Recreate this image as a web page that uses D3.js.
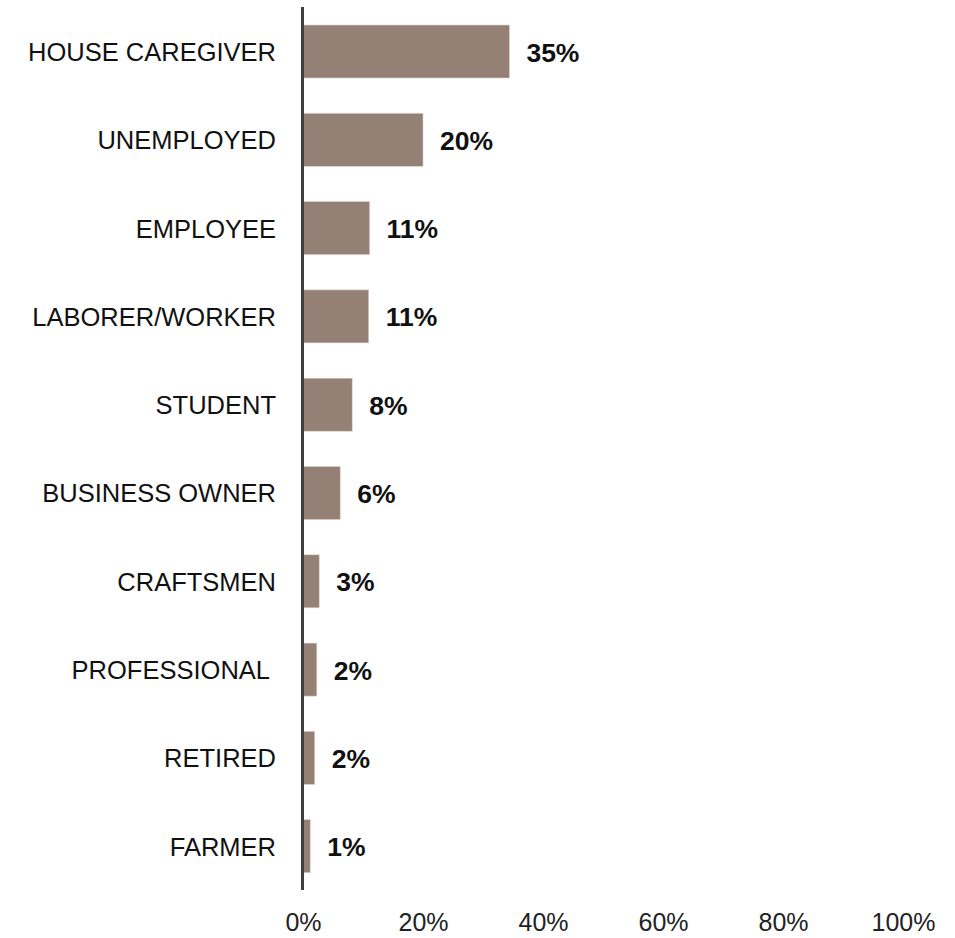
<!DOCTYPE html>
<html>
<head>
<meta charset="utf-8">
<script src="https://cdn.jsdelivr.net/npm/d3@7"></script>
<style>
  html, body { margin: 0; padding: 0; background: #fff; }
  svg { display: block; }
</style>
</head>
<body>
<svg id="chart" width="955" height="938"></svg>
<script>
const categories = ["HOUSE CAREGIVER", "UNEMPLOYED", "EMPLOYEE", "LABORER/WORKER", "STUDENT",
  "BUSINESS OWNER", "CRAFTSMEN", "PROFESSIONAL", "RETIRED", "FARMER"];
const values = [34.4, 20.0, 11.1, 10.95, 8.2, 6.2, 2.7, 2.3, 1.95, 1.2];
const valueLabels = ["35%", "20%", "11%", "11%", "8%", "6%", "3%", "2%", "2%", "1%"];
const tickValues = [0, 20, 40, 60, 80, 100];
const tickLabels = ["0%", "20%", "40%", "60%", "80%", "100%"];

const svg = d3.select("#chart");
const x = d3.scaleLinear().domain([0, 100]).range([303, 903]);
const y = d3.scaleBand().domain(categories).range([7.35, 890.35]).paddingInner(0.4).paddingOuter(0.2);

const font = "'Liberation Sans', Arial, sans-serif";

// bars
svg.append("g").selectAll("rect").data(categories).join("rect")
  .attr("x", x(0))
  .attr("y", d => y(d))
  .attr("width", (d, i) => x(values[i]) - x(0))
  .attr("height", y.bandwidth())
  .attr("fill", "#958075")
  .attr("stroke", "#d9cdc7")
  .attr("stroke-width", 0.6);

// value labels
svg.append("g").selectAll("text").data(categories).join("text")
  .attr("x", (d, i) => x(values[i]) + 17)
  .attr("y", d => y(d) + y.bandwidth() / 2)
  .attr("dy", "0.38em")
  .attr("font-family", font)
  .attr("font-weight", "bold")
  .attr("font-size", 26.5)
  .attr("fill", "#111")
  .text((d, i) => valueLabels[i]);

// category labels (left axis)
const yAxis = d3.axisLeft(y).tickSize(0).tickPadding(0);
const gy = svg.append("g").attr("transform", "translate(276,0)").call(yAxis);
gy.select(".domain").remove();
gy.selectAll("text")
  .attr("font-family", font)
  .attr("font-size", 25.5)
  .attr("fill", "#111")
  .attr("dy", "0.37em")
  .attr("dx", d => d === "PROFESSIONAL" ? -6 : 0);

// vertical axis line
svg.append("line")
  .attr("x1", x(0) - 0.5).attr("x2", x(0) - 0.5)
  .attr("y1", 7).attr("y2", 890)
  .attr("stroke", "#404040")
  .attr("stroke-width", 3);

// bottom tick labels
const xAxis = d3.axisBottom(x).tickValues(tickValues).tickSize(0).tickPadding(0)
  .tickFormat((d, i) => tickLabels[i]);
const gx = svg.append("g").attr("transform", "translate(0,913)").call(xAxis);
gx.select(".domain").remove();
gx.selectAll("text")
  .attr("font-family", font)
  .attr("font-size", 25)
  .attr("fill", "#222");
</script>
</body>
</html>
